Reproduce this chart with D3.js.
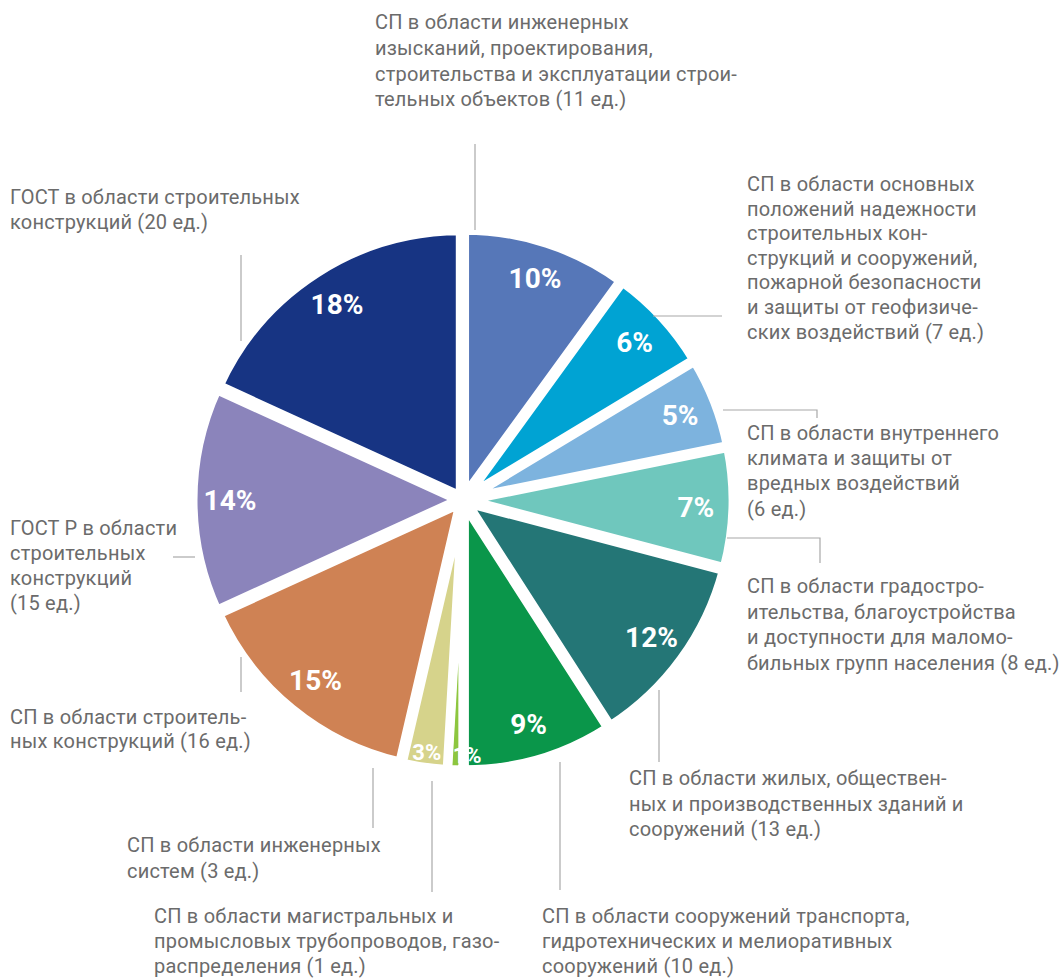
<!DOCTYPE html>
<html>
<head>
<meta charset="utf-8">
<script src="https://cdn.jsdelivr.net/npm/d3@7"></script>
<style>
  html,body{margin:0;padding:0;background:#fff;}
  svg text{font-family:Roboto,"Noto Sans",sans-serif;}
  .cat{fill:#6b6b6b;font-size:20px;letter-spacing:0.2px;}
  .pct{fill:#fff;font-weight:700;}
  .leader{stroke:#a8a8a8;stroke-width:1.2;fill:none;}
</style>
</head>
<body>
<svg id="chart"></svg>
<script>
/* data, clockwise from the top */
const counts = [11, 7, 6, 8, 13, 10, 1, 3, 16, 15, 20];
const pctLabels = ["10%","6%","5%","7%","12%","9%","1%","3%","15%","14%","18%"];
const categories = [
  ["СП в области инженерных","изысканий, проектирования,","строительства и эксплуатации строи-","тельных объектов (11 ед.)"],
  ["СП в области основных","положений надежности","строительных кон-","струкций и сооружений,","пожарной безопасности","и защиты от геофизиче-","ских воздействий (7 ед.)"],
  ["СП в области внутреннего","климата и защиты от","вредных воздействий","(6 ед.)"],
  ["СП в области градостро-","ительства, благоустройства","и доступности для маломо-","бильных групп населения (8 ед.)"],
  ["СП в области жилых, обществен-","ных и производственных зданий и","сооружений (13 ед.)"],
  ["СП в области сооружений транспорта,","гидротехнических и мелиоративных","сооружений (10 ед.)"],
  ["СП в области магистральных и","промысловых трубопроводов, газо-","распределения (1 ед.)"],
  ["СП в области инженерных","систем (3 ед.)"],
  ["СП в области строитель-","ных конструкций (16 ед.)"],
  ["ГОСТ Р в области","строительных","конструкций","(15 ед.)"],
  ["ГОСТ в области строительных","конструкций (20 ед.)"]
];

/* styling / layout */
const colors = ["#5677b8","#00a3d3","#7db3de","#6fc7bd","#247676","#0a964a",
                "#8dc63f","#d6d38b","#cf8254","#8b84bb","#173483"];
const W = 1060, H = 979, cx = 463, cy = 500, R = 265, gap = 9, explode = 5;

// text block anchors (left x, first baseline) and leader polylines
const labelPos = [
  [375, 29], [747, 191], [747, 440], [747, 593], [629, 785],
  [542, 923], [154, 923], [127, 852], [10, 724], [10, 535], [10, 204]
];
const lineHs = [25.8, 24.6, 25.2, 25.5, 25.5, 25, 25, 25.5, 24, 25, 25];
const leaders = [
  [[475,144],[475,230]],
  [[653,316],[722,316]],
  [[723,410],[817,410],[817,418]],
  [[727,538],[820,538],[820,563]],
  [[659,690],[659,762]],
  [[560,762],[560,890]],
  [[432,781],[432,892]],
  [[373,768],[373,828]],
  [[241,657],[241,692]],
  [[173,557],[195,557]],
  [[241,255],[241,341]]
];

const svg = d3.select("#chart").attr("width", W).attr("height", H);

/*────────── pie ──────────*/
const pie = d3.pie().sort(null).value(d => d);
const arcs = pie(counts);
const arc = d3.arc().innerRadius(0).outerRadius(R);
const g = svg.append("g").attr("transform", `translate(${cx},${cy})`);

const shift = d => {
  const a = (d.startAngle + d.endAngle) / 2;
  return [Math.sin(a) * explode, -Math.cos(a) * explode];
};
const small = d => (d.endAngle - d.startAngle) < 0.25;
const tiny  = d => (d.endAngle - d.startAngle) < 0.1;

g.selectAll("path.slice")
  .data(arcs).enter().append("path")
  .attr("class","slice")
  .attr("transform", d => `translate(${shift(d)})`)
  .attr("d", arc)
  .attr("fill", (d,i) => colors[i])
  .attr("stroke", "#fff")
  .attr("stroke-width", gap);

/* percent labels (the 1% one spills onto the neighbour, as in the original) */
g.selectAll("text.pct")
  .data(arcs).enter().append("text")
  .attr("class","pct")
  .attr("text-anchor", d => tiny(d) ? "start" : "middle")
  .style("font-size", d => small(d) ? "22px" : "28px")
  .attr("transform", d => {
    const rl = small(d) ? 250 : 228;
    const [x,y] = d3.arc().innerRadius(rl).outerRadius(rl).centroid(d);
    const [sx,sy] = shift(d);
    return `translate(${x+sx-(tiny(d) ? 3 : 0)},${y+sy+(small(d) ? 8 : 10)})`;
  })
  .text((d,i) => pctLabels[i]);

/*────────── leaders + category text ──────────*/
const line = d3.line();
svg.append("g").selectAll("path")
  .data(leaders).enter().append("path")
  .attr("class","leader")
  .attr("d", d => line(d));

const labels = svg.append("g").selectAll("text")
  .data(categories).enter().append("text")
  .attr("class","cat")
  .attr("x", (d,i) => labelPos[i][0])
  .attr("y", (d,i) => labelPos[i][1]);

labels.each(function(lines, i){
  d3.select(this).selectAll("tspan")
    .data(lines).enter().append("tspan")
    .attr("x", labelPos[i][0])
    .attr("dy", (l,j) => j ? lineHs[i] : 0)
    .text(l => l);
});
</script>
</body>
</html>
